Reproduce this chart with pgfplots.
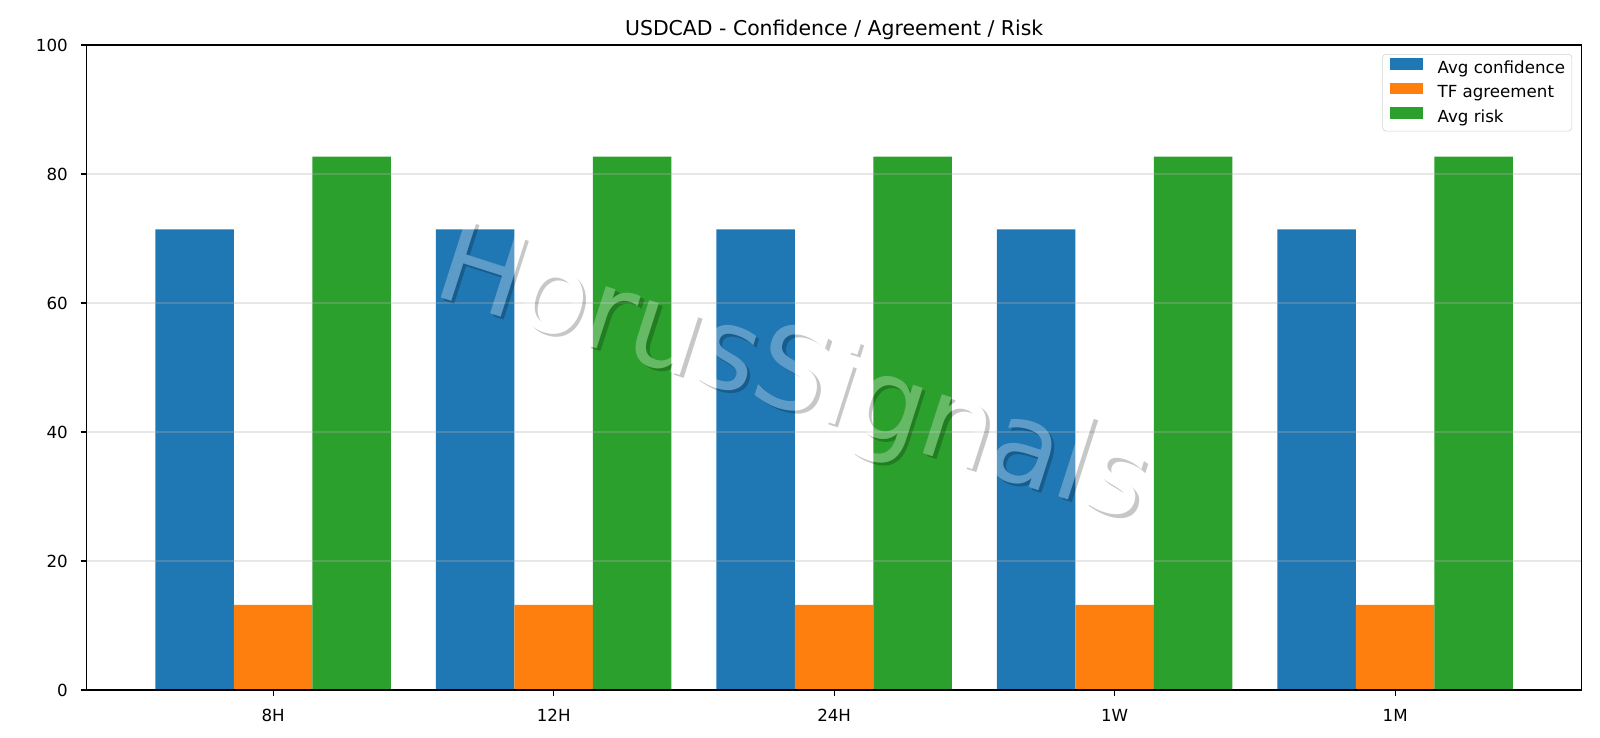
\documentclass[border=0pt]{standalone}
\usepackage{fontspec}
\setmainfont{DejaVu Sans}
\usepackage{pgfplots}
\pgfplotsset{compat=1.18}
\usetikzlibrary{fadings}

\definecolor{tabblue}{HTML}{1F77B4}
\definecolor{taborange}{HTML}{FF7F0E}
\definecolor{tabgreen}{HTML}{2CA02C}
\definecolor{gridgray}{HTML}{B0B0B0}

\pgfplotsset{
  blockleg/.style={legend image code/.code={\fill[##1, sharp corners] (0pt,0pt) rectangle (23.8pt,8.4pt);}},
}

\newcommand{\wmfont}{\fontsize{81.7}{81.7}\selectfont}

% shadow of the watermark, with the letters themselves cut out
\begin{tikzfadingfrompicture}[name=wmshadow]
  \path (-620pt,-320pt) rectangle (620pt,320pt);
  \node[rotate=-17.8, inner sep=0pt, text=transparent!0, font=\wmfont]
    at (2.6pt,-2.2pt) {HorusSignals};
  \node[rotate=-17.8, inner sep=0pt, text=transparent!100, font=\wmfont]
    at (0pt,0pt) {HorusSignals};
\end{tikzfadingfrompicture}

% values per timeframe: 8H, 12H, 24H, 1W, 1M
\begin{document}
\begin{tikzpicture}
\useasboundingbox (-62.4pt,-34.56pt) rectangle (1089.6pt,496.8pt);
\begin{axis}[
  at={(0pt,0pt)}, anchor=south west,
  scale only axis,
  width=1076.4pt, height=464.4pt,
  ybar,
  bar width=0.28,
  xmin=-0.665, xmax=4.665,
  ymin=0, ymax=100,
  xtick={0,1,2,3,4},
  xticklabels={8H,12H,24H,1W,1M},
  ytick={0,20,40,60,80,100},
  xtick pos=left, ytick pos=left,
  tick align=outside,
  major tick length=4.3pt,
  tick style={black, line width=0.9pt},
  axis line style={black, line width=0.9pt},
  ymajorgrids,
  major grid style={gridgray, opacity=0.3, line width=0.8pt},
  axis on top,
  /pgf/number format/assume math mode=true,
  ticklabel style={font=\fontsize{12}{12}\selectfont},
  xticklabel style={anchor=base, inner sep=0pt, yshift=-18.5pt},
  yticklabel style={anchor=east, inner sep=0pt, xshift=-9.1pt},
  title={USDCAD - Confidence / Agreement / Risk},
  every axis title shift=0pt,
  title style={at={(0.5,1)}, anchor=base, yshift=6.7pt, inner sep=0pt,
    font=\fontsize{14.7}{14.7}\selectfont},
  legend cell align=left,
  legend style={at={(1,1)}, anchor=north east, xshift=-6.8pt, yshift=-6.5pt,
    draw=black!18, rounded corners=2.5pt, fill=white,
    inner xsep=5pt, inner ysep=3pt, row sep=3.1pt, column sep=10.8pt,
    font=\fontsize{12}{12}\selectfont,
    nodes={inner sep=0pt, text height=8.4pt, text depth=3.5pt}},
]
\addplot[fill=tabblue, draw=none, bar shift=-0.28, blockleg] coordinates {
  (0,71.43) (1,71.43) (2,71.43) (3,71.43) (4,71.43)};
\addlegendentry{Avg confidence}
\addplot[fill=taborange, draw=none, bar shift=0, blockleg] coordinates {
  (0,13.18) (1,13.18) (2,13.18) (3,13.18) (4,13.18)};
\addlegendentry{TF agreement}
\addplot[fill=tabgreen, draw=none, bar shift=0.28, blockleg] coordinates {
  (0,82.7) (1,82.7) (2,82.7) (3,82.7) (4,82.7)};
\addlegendentry{Avg risk}
\node[rotate=90, anchor=base, inner sep=0pt, font=\fontsize{12}{12}\selectfont]
  at ([xshift=-38.4pt]axis description cs:0,0.5) {Score};
\end{axis}
% watermark: shadow outside the letters, then the translucent letters
\fill[black, opacity=0.22, path fading=wmshadow, fit fading=false,
      fading transform={shift={(507.8pt,224.6pt)}}]
  (-112.2pt,-95.4pt) rectangle (1127.8pt,544.6pt);
\node[rotate=-17.8, inner sep=0pt, text=white, text opacity=0.28, font=\wmfont]
  at (507.8pt,224.6pt) {HorusSignals};
\end{tikzpicture}
\end{document}
